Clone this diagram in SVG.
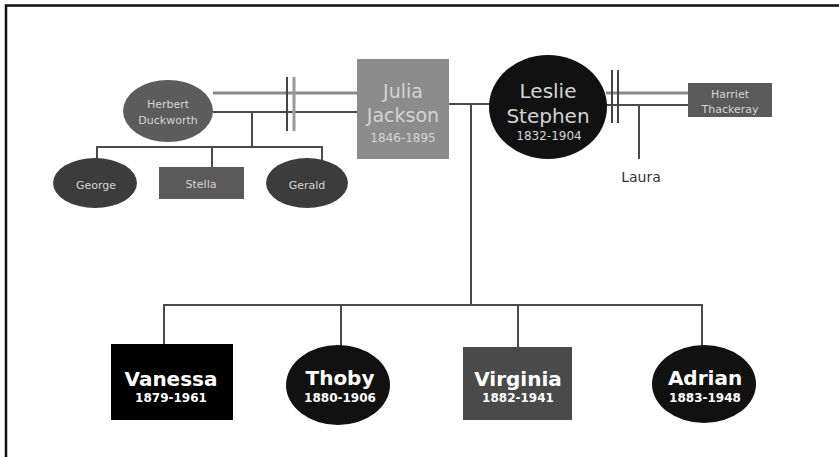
<svg xmlns="http://www.w3.org/2000/svg" width="839" height="457" viewBox="0 0 839 457">
<style>
text{font-family:"DejaVu Sans","Liberation Sans",sans-serif;text-anchor:middle}
.lt{fill:#d4d4d4}
.sm{font-size:11px}
.big{font-size:19px}
.yr{font-size:12px}
.kb{fill:#fff;font-weight:bold;font-size:20px}
.ky{fill:#fff;font-weight:bold;font-size:12px}
.ln{stroke:#4a4a4a;stroke-width:2;fill:none}
.mar{stroke:#8a8a8a;stroke-width:3;fill:none}
.dv1{stroke:#444;stroke-width:2}
.dv2{stroke:#999;stroke-width:3}
</style>
<rect width="839" height="457" fill="#fff"/>
<path d="M6,457 V5.5 H839" fill="none" stroke="#111" stroke-width="2.5"/>
<g id="connectors">
<line class="mar" x1="213" y1="93" x2="358" y2="93"/>
<line class="ln" x1="213" y1="112" x2="358" y2="112"/>
<line class="dv1" x1="287" y1="77" x2="287" y2="131"/>
<line class="dv2" x1="294" y1="77" x2="294" y2="131"/>
<polyline class="ln" points="252,112 252,147"/>
<line class="ln" x1="96" y1="147" x2="323" y2="147"/>
<line class="ln" x1="97" y1="147" x2="97" y2="160"/>
<line class="ln" x1="212" y1="147" x2="212" y2="167"/>
<line class="ln" x1="322" y1="147" x2="322" y2="160"/>
<line class="ln" x1="449" y1="104" x2="490" y2="104"/>
<line class="ln" x1="471" y1="104" x2="471" y2="305"/>
<line class="mar" x1="606" y1="93" x2="688" y2="93"/>
<line class="ln" x1="606" y1="105" x2="688" y2="105"/>
<line class="dv1" x1="612" y1="70" x2="612" y2="123"/>
<line class="dv1" x1="618" y1="70" x2="618" y2="123"/>
<line class="ln" x1="639" y1="105" x2="639" y2="159"/>
<line class="ln" x1="163" y1="305" x2="703" y2="305"/>
<line class="ln" x1="164" y1="305" x2="164" y2="344"/>
<line class="ln" x1="341" y1="305" x2="341" y2="346"/>
<line class="ln" x1="518" y1="305" x2="518" y2="347"/>
<line class="ln" x1="702" y1="305" x2="702" y2="346"/>
</g>
<g id="herbert">
<ellipse cx="168" cy="111" rx="45" ry="31" fill="#5c5c5c"/>
<text class="lt sm" x="168" y="108">Herbert</text>
<text class="lt sm" x="168" y="124">Duckworth</text>
</g>
<g id="george">
<ellipse cx="95" cy="183" rx="42" ry="25" fill="#3c3c3c"/>
<text class="lt sm" x="96" y="189" fill="#bbb">George</text>
</g>
<g id="stella">
<rect x="159" y="167" width="85" height="32" fill="#5a5a5a"/>
<text class="lt sm" x="201" y="188">Stella</text>
</g>
<g id="gerald">
<ellipse cx="307" cy="183" rx="41" ry="25" fill="#3c3c3c"/>
<text class="lt sm" x="307" y="189">Gerald</text>
</g>
<g id="julia">
<rect x="357" y="59" width="92" height="100" fill="#8c8c8c"/>
<text class="lt big" x="403" y="98">Julia</text>
<text class="lt big" x="403" y="122">Jackson</text>
<text class="lt yr" x="403" y="142">1846-1895</text>
</g>
<g id="leslie">
<ellipse cx="548" cy="107" rx="59" ry="52" fill="#111"/>
<text class="lt" x="548" y="98" style="font-size:20px">Leslie</text>
<text class="lt" x="548" y="123" style="font-size:20px">Stephen</text>
<text class="lt yr" x="549" y="140">1832-1904</text>
</g>
<g id="harriet">
<rect x="688" y="83" width="84" height="34" fill="#5a5a5a"/>
<text class="lt sm" x="730" y="98">Harriet</text>
<text class="lt sm" x="730" y="113">Thackeray</text>
</g>
<g id="laura">
<text x="641" y="182" style="font-size:14px" fill="#333">Laura</text>
</g>
<g id="vanessa">
<rect x="111" y="344" width="122" height="76" fill="#000"/>
<text class="kb" x="171" y="386">Vanessa</text>
<text class="ky" x="171" y="402">1879-1961</text>
</g>
<g id="thoby">
<ellipse cx="338" cy="385" rx="52" ry="40" fill="#111"/>
<text class="kb" x="340" y="385">Thoby</text>
<text class="ky" x="340" y="402">1880-1906</text>
</g>
<g id="virginia">
<rect x="463" y="347" width="109" height="73" fill="#4a4a4a"/>
<text class="kb" x="518" y="386">Virginia</text>
<text class="ky" x="518" y="402">1882-1941</text>
</g>
<g id="adrian">
<ellipse cx="704" cy="384" rx="52" ry="39" fill="#111"/>
<text class="kb" x="705" y="385">Adrian</text>
<text class="ky" x="705" y="402">1883-1948</text>
</g>
</svg>
